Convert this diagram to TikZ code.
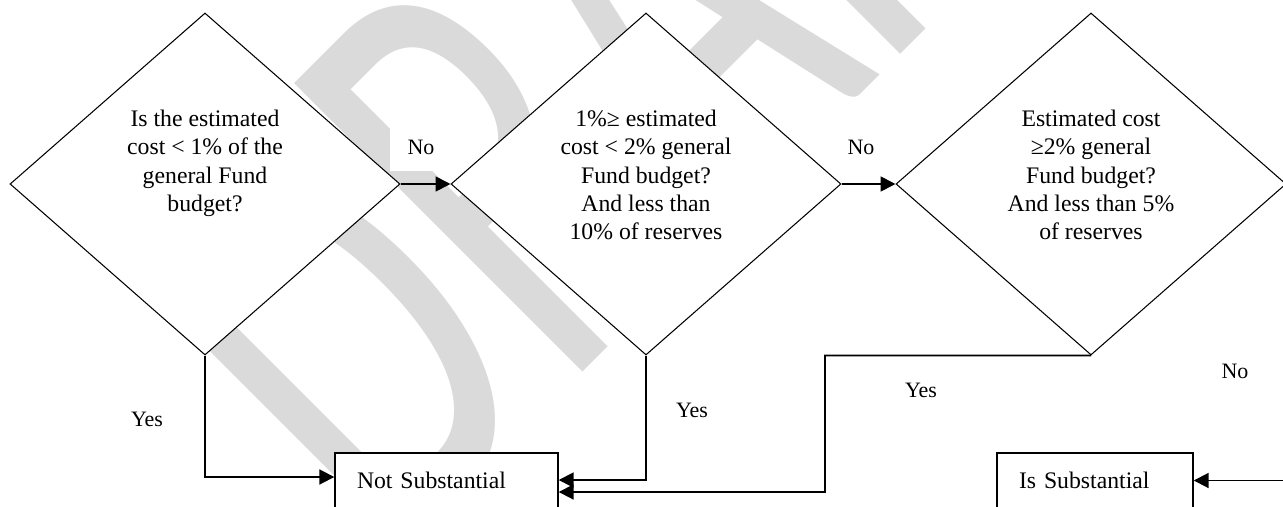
\documentclass[tikz,border=0pt]{standalone}
\usepackage{fontspec}
\setmainfont{Liberation Serif}
\newfontfamily\wmfont{Carlito}
\usepackage{graphicx}
\usetikzlibrary{shapes, arrows.meta, positioning}
\definecolor{wmgray}{RGB}{218,218,218}
\tikzstyle{decision} = [diamond, draw, fill=white, line width=0.6pt, minimum width=7.8cm, minimum height=6.84cm, inner sep=0pt]
\tikzstyle{qtext} = [align=center, inner sep=0pt, anchor=north, font=\fontsize{13.5pt}{16pt}\selectfont]
\tikzstyle{outcome} = [rectangle, draw, fill=white, line width=0.8pt, inner xsep=0.44cm, minimum height=1.1cm, align=left, font=\fontsize{13.5pt}{16pt}\selectfont]
\tikzstyle{lbl} = [fill=white, inner sep=0pt, minimum width=1.24cm, minimum height=0.94cm, font=\fontsize{12.5pt}{15pt}\selectfont]
\tikzstyle{flow} = [-{Triangle[length=8.5pt, width=8.5pt]}, line width=1.1pt]
\tikzstyle{wmark} = [text=wmgray, inner sep=0pt, rotate=45, anchor=base west, font=\wmfont\fontsize{229pt}{229pt}\selectfont]

\begin{document}
\begin{tikzpicture}
  \useasboundingbox (0,0) rectangle (25.66,10.12);

  % 水印
  \node[wmark] (wm) at (7.74,-1.24) {\scalebox{1}[1.58]{DRAFT}};

  % 判断框
  \node[decision] (d1) at (4.10,6.44) {};
  \node[decision] (d2) at (12.92,6.44) {};
  \node[decision] (d3) at (21.82,6.44) {};
  \node[qtext] (q1) at (4.10,7.92) {Is the estimated\\cost < 1\% of the\\general Fund\\budget?};
  \node[qtext] (q2) at (12.92,7.92) {1\%≥ estimated\\cost < 2\% general\\Fund budget?\\And less than\\10\% of reserves};
  \node[qtext] (q3) at (21.82,7.92) {Estimated cost\\≥2\% general\\Fund budget?\\And less than 5\%\\of reserves};

  % 结果框
  \node[outcome, text width=3.58cm] (ns) at (8.93,0.51) {Not Substantial};
  \node[outcome, text width=3.04cm] (is) at (21.90,0.51) {Is Substantial};

  % 标签
  \node[lbl] (no1) at (8.42,7.18) {No};
  \node[lbl] (no2) at (17.22,7.18) {No};
  \node[lbl] (yes1) at (2.94,1.74) {Yes};
  \node[lbl] (yes2) at (13.84,1.92) {Yes};
  \node[lbl] (yes3) at (18.42,2.32) {Yes};
  \node[lbl] (no3) at (24.70,2.70) {No};

  % 连线
  \coordinate (jog) at (16.50,0.28);
  \coordinate (inflow) at (25.70,0.51);
  \draw[flow] (d1.east) -- (d2.west);
  \draw[flow] (d2.east) -- (d3.west);
  \draw[flow] (d1.south) |- ([yshift=0.07cm]ns.west);
  \draw[flow] (d2.south) |- ([yshift=0.01cm]ns.east);
  \draw[flow] (d3.south) -| (jog) -- ([yshift=-0.23cm]ns.east);
  \draw[flow] (inflow) -- (is.east);
\end{tikzpicture}
\end{document}
